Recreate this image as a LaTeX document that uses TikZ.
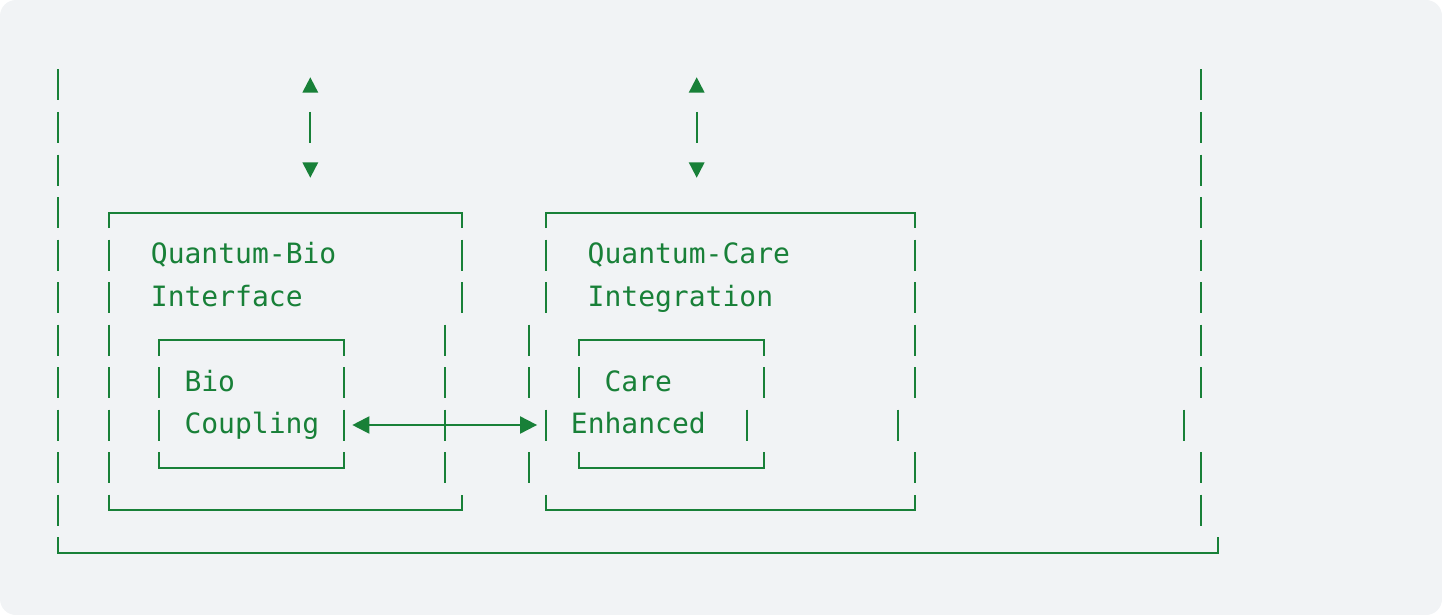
\documentclass[tikz,border=0pt]{standalone}
\usepackage{fontspec}
\newfontfamily\monofam{DejaVu Sans Mono}
\usetikzlibrary{arrows.meta}
\definecolor{gr}{HTML}{188038}
\definecolor{bgc}{HTML}{F1F3F5}
\tikzset{
  ln/.style={draw=gr, line width=2pt, line cap=butt, line join=miter},
  lbl/.style={text=gr, inner sep=0pt, anchor=base west, font=\monofam\fontsize{28}{34}\selectfont},
  tri/.style={fill=gr, draw=none}
}
% column / row helpers (pixel units)
\newcommand\cx[1]{58.3+16.8*(#1)}
\newcommand\ry[1]{85+42.5*(#1)}
\newcommand\vbar[2]{\draw[ln] ({\cx{#1}},{\ry{#2}-15.5}) -- ++(0,31);}
\newcommand\topedge[3]{\draw[ln] ({\cx{#1}},{\ry{#3}+15.5}) -- ({\cx{#1}},{\ry{#3}}) -- ({\cx{#2}},{\ry{#3}}) -- ({\cx{#2}},{\ry{#3}+15.5});}
\newcommand\botedge[3]{\draw[ln] ({\cx{#1}},{\ry{#3}-15.5}) -- ({\cx{#1}},{\ry{#3}}) -- ({\cx{#2}},{\ry{#3}}) -- ({\cx{#2}},{\ry{#3}-15.5});}
\newcommand\uptri[2]{\fill[tri] ({\cx{#1}-8},{\ry{#2}+7.7}) -- ({\cx{#1}+8},{\ry{#2}+7.7}) -- ({\cx{#1}},{\ry{#2}-7.7}) -- cycle;}
\newcommand\dntri[2]{\fill[tri] ({\cx{#1}-8},{\ry{#2}-7.7}) -- ({\cx{#1}+8},{\ry{#2}-7.7}) -- ({\cx{#1}},{\ry{#2}+7.7}) -- cycle;}
\begin{document}
\begin{tikzpicture}[x=1pt,y=-1pt]
\useasboundingbox (0,0) rectangle (1442,615);
\fill[bgc, rounded corners=16pt] (0,0) rectangle (1442,615);

% outer frame
\foreach \r in {0,...,10} {\vbar{0}{\r}}
\foreach \r in {0,...,7} {\vbar{68}{\r}}
\vbar{67}{8}
\foreach \r in {9,10} {\vbar{68}{\r}}
\botedge{0}{69}{11}

% vertical double arrows
\uptri{15}{0} \vbar{15}{1} \dntri{15}{2}
\uptri{38}{0} \vbar{38}{1} \dntri{38}{2}

% box 1: Quantum-Bio Interface
\topedge{3}{24}{3}
\foreach \r in {4,...,9} {\vbar{3}{\r}}
\foreach \r in {4,5} {\vbar{24}{\r}}
\foreach \r in {6,...,9} {\vbar{23}{\r}}
\botedge{3}{24}{10}
\node[lbl] (qb) at ({\cx{6}-8.4},{\ry{4}+8.5}) {Quantum-Bio};
\node[lbl] (qbi) at ({\cx{6}-8.4},{\ry{5}+8.5}) {Interface};

% inner box 1: Bio Coupling
\topedge{6}{17}{6}
\foreach \r in {7,8} {\vbar{6}{\r} \vbar{17}{\r}}
\botedge{6}{17}{9}
\node[lbl] (bio) at ({\cx{8}-8.4},{\ry{7}+8.5}) {Bio};
\node[lbl] (coup) at ({\cx{8}-8.4},{\ry{8}+8.5}) {Coupling};

% box 2: Quantum-Care Integration
\topedge{29}{51}{3}
\foreach \r in {4,5} {\vbar{29}{\r}}
\foreach \r in {6,7,9} {\vbar{28}{\r}}
\vbar{29}{8}
\foreach \r in {4,...,7} {\vbar{51}{\r}}
\vbar{50}{8}
\vbar{51}{9}
\botedge{29}{51}{10}
\node[lbl] (qc) at ({\cx{32}-8.4},{\ry{4}+8.5}) {Quantum-Care};
\node[lbl] (qci) at ({\cx{32}-8.4},{\ry{5}+8.5}) {Integration};

% inner box 2: Care Enhanced
\topedge{31}{42}{6}
\vbar{31}{7} \vbar{42}{7}
\vbar{41}{8}
\botedge{31}{42}{9}
\node[lbl] (care) at ({\cx{33}-8.4},{\ry{7}+8.5}) {Care};
\node[lbl] (enh) at ({\cx{31}-8.4},{\ry{8}+8.5}) {Enhanced};

% horizontal double arrow between inner boxes
\coordinate (bcR) at ({\cx{18}-8.4},{\ry{8}});
\coordinate (ceL) at ({\cx{28}+8.4},{\ry{8}});
\draw[ln, {Triangle[length=17pt,width=17pt]}-{Triangle[length=17pt,width=17pt]}] (bcR) -- (ceL);
\end{tikzpicture}
\end{document}
